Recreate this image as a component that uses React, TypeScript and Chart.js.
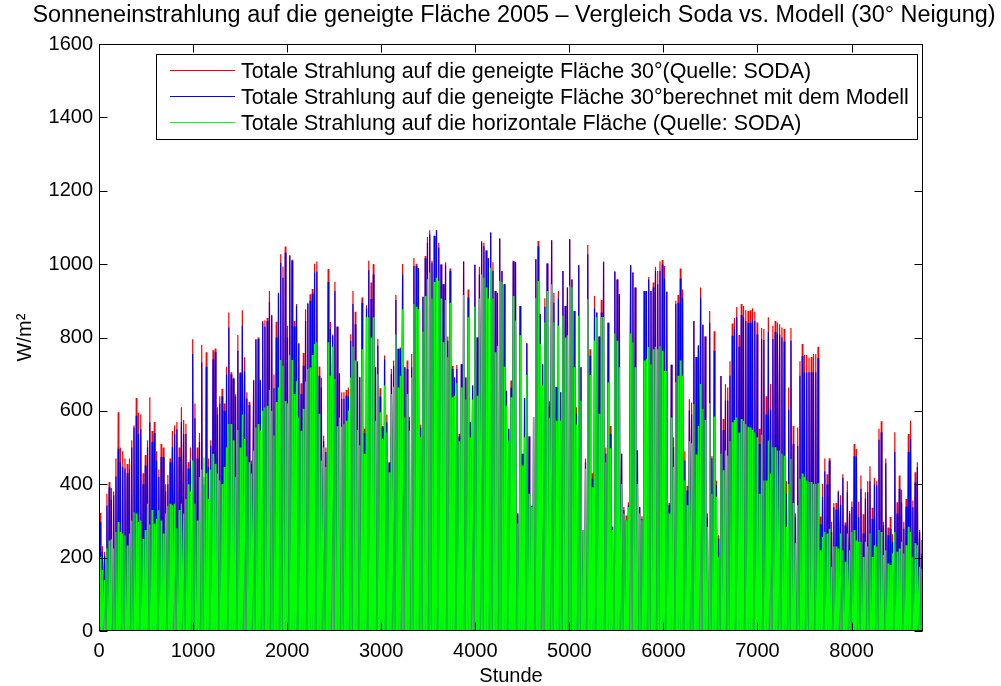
import React, { useEffect, useRef } from "react";
import { Chart, registerables } from "chart.js";

Chart.register(...registerables);

const FONT = '"Liberation Sans", Arial, Helvetica, sans-serif';

const TITLE =
  "Sonneneinstrahlung auf die geneigte Fläche 2005 – Vergleich Soda vs. Modell (30° Neigung)";
const X_LABEL = "Stunde";
const Y_LABEL = "W/m²";

const SERIES_LABELS = [
  "Totale Strahlung auf die geneigte Fläche 30°(Quelle: SODA)",
  "Totale Strahlung auf die geneigte Fläche 30°berechnet mit dem Modell",
  "Totale Strahlung auf die horizontale Fläche (Quelle: SODA)",
];
const SERIES_COLORS = ["#ff0000", "#0000ff", "#00ff00"];

const X_TICKS = [0, 1000, 2000, 3000, 4000, 5000, 6000, 7000, 8000];
const Y_TICKS = [0, 200, 400, 600, 800, 1000, 1200, 1400, 1600];
const HOURS_IN_YEAR = 8760;

// Daily noon peaks (W/m²), one value per day of 2005.
const sodaTiltedPeaks = [
  322, 231, 216, 374, 406, 390, 380, 470, 596, 500, 490, 470, 455, 470, 520, 560, 635, 595, 590, 430,
  480, 520, 637, 545, 570, 490, 440, 510, 500, 400, 425, 470, 545, 560, 570, 500, 610, 575, 565, 460,
  500, 795, 620, 500, 540, 780, 420, 760, 470, 520, 765, 770, 610, 640, 660, 620, 720,
  868, 705, 690, 645, 807, 705, 874, 746, 651, 625, 465, 685, 796, 800, 685, 845, 847, 853, 927, 862,
  699, 843, 922, 1027, 993, 1048, 832, 1025, 1012, 845, 891, 785, 675, 758, 877, 895, 918, 932, 1001, 1007,
  721, 690, 532, 500, 987, 842, 808, 952, 830, 703, 651, 651, 657, 664, 809, 927, 870, 735, 693, 909,
  551, 888, 1009,
  950, 1000, 719, 796, 662, 559, 751, 590, 459, 714, 737, 916, 769, 773, 1000, 719, 737, 584, 755, 1017,
  1001, 989, 563, 911, 1022, 1074, 1092, 1009, 1077, 1092, 1058, 999, 945, 1005, 803, 988, 722, 691, 725, 537,
  727, 1007, 691, 931, 569, 669, 998, 800, 993, 1063, 1058, 1037, 1016, 1086, 1005, 927, 922, 1070, 981, 945,
  655, 551, 683, 1009, 1005, 320, 886, 483, 635, 784, 530, 340, 583, 1013, 1063, 864, 727, 907, 1002, 626,
  1065, 922, 665, 927, 651, 981, 886, 936, 1068, 958, 872, 610, 997, 719, 275, 470, 1052, 768, 430, 913,
  868, 803, 902, 1007, 500, 840, 559, 284, 980, 958, 918, 483, 338, 315, 351, 997, 977, 936, 492, 338,
  313, 927, 927, 965, 927, 950, 993, 981, 1007, 1011, 995, 925, 349, 726, 528, 900, 916, 988, 931, 490,
  395, 632, 623, 845, 747, 778, 936, 835, 803, 320, 872, 477, 817, 410, 261, 695, 578, 673, 664, 735,
  838, 853, 883, 807, 891, 886, 874, 872, 874, 880, 870, 841, 551, 826, 823, 640, 855, 673, 832, 845,
  841, 836, 827, 823, 408, 664, 826, 559, 320, 555, 735, 782, 752, 752, 745, 747, 755, 755, 775, 312,
  401, 470, 427, 471, 298, 348, 349, 383, 370, 427, 296, 408, 327, 353, 510, 496, 352, 424, 318, 378,
  408, 449, 336, 418, 408, 551, 572, 298, 470, 282, 311, 264, 542, 351, 424, 385, 298, 360, 537, 573,
  356, 433, 460, 275, 248,
];

const modelTiltedPeaks = [
  297, 216, 205, 342, 392, 358, 370, 421, 497, 460, 447, 443, 430, 440, 500, 555, 587, 537, 550, 400,
  451, 501, 569, 515, 540, 465, 420, 474, 474, 380, 400, 460, 501, 537, 550, 474, 569, 537, 537, 443,
  465, 755, 580, 470, 515, 732, 400, 720, 447, 505, 740, 760, 590, 620, 640, 600, 700,
  827, 699, 687, 639, 764, 702, 832, 707, 634, 616, 456, 682, 794, 796, 682, 841, 829, 845, 897, 859,
  662, 800, 920, 1004, 963, 1031, 800, 1022, 1009, 830, 886, 782, 646, 723, 845, 891, 900, 920, 977, 980,
  696, 664, 517, 488, 951, 823, 805, 927, 829, 700, 633, 633, 641, 641, 791, 891, 836, 732, 691, 895,
  539, 880, 983,
  905, 972, 719, 778, 639, 555, 741, 569, 459, 700, 723, 902, 769, 769, 972, 719, 714, 573, 719, 995,
  995, 989, 555, 911, 1016, 1058, 1081, 1004, 1077, 1092, 1045, 999, 945, 999, 791, 981, 714, 691, 714, 530,
  727, 1007, 691, 909, 569, 669, 998, 800, 972, 1058, 1049, 1037, 1016, 1086, 981, 927, 922, 1070, 981, 945,
  655, 551, 664, 1007, 1005, 320, 886, 483, 635, 784, 530, 340, 583, 1013, 1049, 864, 727, 884, 1002, 612,
  1065, 895, 665, 907, 651, 981, 886, 936, 1068, 958, 872, 592, 997, 719, 275, 460, 1027, 750, 415, 880,
  868, 803, 868, 1005, 483, 840, 537, 284, 980, 958, 918, 483, 329, 302, 343, 997, 977, 936, 492, 338,
  306, 927, 927, 958, 927, 936, 981, 945, 981, 999, 961, 925, 343, 726, 501, 891, 895, 961, 909, 465,
  383, 601, 590, 845, 747, 778, 909, 835, 803, 309, 840, 471, 764, 397, 252, 695, 548, 628, 628, 696,
  805, 823, 855, 775, 861, 855, 845, 840, 840, 850, 845, 808, 510, 796, 793, 590, 815, 604, 796, 815,
  811, 808, 800, 789, 374, 604, 791, 510, 311, 504, 696, 749, 705, 705, 705, 705, 705, 705, 744, 290,
  365, 435, 399, 464, 270, 337, 331, 379, 345, 418, 288, 379, 320, 338, 476, 476, 311, 388, 266, 361,
  379, 408, 306, 401, 397, 521, 542, 288, 457, 261, 279, 243, 488, 320, 388, 351, 279, 339, 488, 523,
  337, 405, 447, 270, 211,
];

const sodaHorizontalPeaks = [
  202, 166, 139, 225, 247, 250, 225, 270, 297, 270, 266, 260, 233, 266, 301, 324, 320, 297, 301, 251,
  275, 347, 290, 330, 293, 306, 329, 301, 266, 320, 340, 347, 343, 347, 280, 330, 347, 320, 360, 400,
  380, 465, 347, 301, 420, 440, 472, 430, 360, 440, 483, 456, 429, 410, 401, 447, 500,
  564, 564, 520, 420, 548, 500, 590, 523, 476, 460, 429, 492, 555, 564, 546, 600, 609, 614, 657, 600,
  533, 624, 664, 739, 723, 627, 620, 752, 739, 646, 681, 582, 546, 606, 680, 714, 718, 752, 782, 787,
  592, 465, 500, 447, 787, 696, 775, 687, 558, 582, 557, 564, 573, 600, 691, 775, 737, 548, 506, 768,
  483, 855, 855,
  800, 855, 573, 700, 596, 524, 669, 541, 433, 646, 666, 808, 664, 696, 877, 582, 646, 546, 691, 891,
  884, 877, 529, 816, 913, 959, 977, 906, 951, 963, 954, 906, 787, 902, 746, 895, 637, 641, 675, 517,
  664, 916, 631, 855, 528, 631, 884, 641, 906, 972, 963, 936, 906, 990, 906, 760, 777, 954, 951, 720,
  614, 519, 637, 913, 846, 293, 806, 451, 528, 698, 374, 338, 583, 908, 954, 782, 669, 841, 927, 581,
  945, 841, 573, 832, 573, 859, 800, 806, 941, 936, 719, 563, 859, 628, 275, 442, 904, 698, 392, 791,
  855, 592, 856, 856, 460, 678, 498, 275, 811, 791, 719, 401, 320, 302, 338, 811, 787, 719, 401, 320,
  302, 737, 741, 774, 727, 768, 775, 768, 777, 764, 709, 709, 320, 582, 447, 678, 696, 737, 696, 410,
  343, 517, 512, 619, 481, 559, 673, 605, 575, 284, 621, 374, 585, 365, 202, 483, 438, 492, 478, 517,
  569, 575, 582, 541, 578, 573, 564, 557, 555, 548, 541, 528, 374, 535, 410, 410, 519, 429, 501, 501,
  492, 492, 483, 478, 284, 401, 469, 349, 239, 343, 415, 429, 420, 410, 406, 406, 401, 401, 403, 220,
  256, 270, 266, 279, 175, 230, 230, 225, 266, 220, 189, 266, 220, 270, 275, 247, 243, 243, 202, 243,
  230, 266, 202, 234, 230, 275, 270, 207, 220, 184, 180, 211, 270, 216, 225, 243, 211, 234, 284, 270,
  202, 239, 234, 175, 170,
];

// Hour of day for sunrise, solar noon and sunset of each daily profile.
const SUNRISE_HOUR = 5;
const NOON_HOUR = 12;
const SUNSET_HOUR = 19;

function hourlyProfile(peaks: number[]) {
  const pts: { x: number; y: number }[] = [];
  peaks.forEach((peak, day) => {
    const h0 = day * 24;
    pts.push({ x: h0 + SUNRISE_HOUR, y: 0 });
    pts.push({ x: h0 + NOON_HOUR, y: peak });
    pts.push({ x: h0 + SUNSET_HOUR, y: 0 });
  });
  return pts;
}

const W = 1001;
const H = 686;

function fitSize(ctx: CanvasRenderingContext2D, text: string, width: number) {
  ctx.font = `20px ${FONT}`;
  return (20 * width) / ctx.measureText(text).width;
}

const framePlugin = {
  id: "frameAndLabels",
  afterDraw(chart: any) {
    const { ctx, chartArea: a, scales } = chart;
    ctx.save();

    // axes box
    ctx.strokeStyle = "#000";
    ctx.lineWidth = 1;
    const L = Math.round(a.left) + 0.5;
    const T = Math.round(a.top) + 0.5;
    const R = Math.round(a.right) - 0.5;
    const B = Math.round(a.bottom) - 0.5;
    ctx.strokeRect(L, T, R - L, B - T);

    // inward tick marks on all four sides
    const TL = 8;
    ctx.beginPath();
    X_TICKS.forEach((v) => {
      const x = Math.round(scales.x.getPixelForValue(v)) + 0.5;
      ctx.moveTo(x, B);
      ctx.lineTo(x, B - TL);
      ctx.moveTo(x, T);
      ctx.lineTo(x, T + TL);
    });
    Y_TICKS.forEach((v) => {
      const y = Math.round(scales.y.getPixelForValue(v)) + 0.5;
      ctx.moveTo(L, y);
      ctx.lineTo(L + TL, y);
      ctx.moveTo(R, y);
      ctx.lineTo(R - TL, y);
    });
    ctx.stroke();

    ctx.fillStyle = "#000";

    // title
    const titleSize = fitSize(ctx, TITLE, 964);
    ctx.font = `${titleSize}px ${FONT}`;
    ctx.textAlign = "center";
    ctx.textBaseline = "alphabetic";
    ctx.fillText(TITLE, 514, 22);

    // axis titles
    ctx.font = `20px ${FONT}`;
    ctx.fillText(X_LABEL, (a.left + a.right) / 2, 682);
    ctx.save();
    ctx.translate(25, (a.top + a.bottom) / 2);
    ctx.rotate(-Math.PI / 2);
    ctx.textBaseline = "middle";
    ctx.fillText(Y_LABEL, 0, 0);
    ctx.restore();

    // legend
    const boxL = 156.5, boxT = 54.5, boxR = 917.5, boxB = 139.5;
    ctx.fillStyle = "#fff";
    ctx.fillRect(boxL, boxT, boxR - boxL, boxB - boxT);
    ctx.strokeStyle = "#000";
    ctx.lineWidth = 1;
    ctx.strokeRect(boxL, boxT, boxR - boxL, boxB - boxT);
    const legendSize = fitSize(ctx, SERIES_LABELS[1], 668);
    const rowY = [70, 96, 122];
    chart.data.datasets.forEach((ds: any, i: number) => {
      const y = rowY[i];
      ctx.strokeStyle = ds.borderColor;
      ctx.lineWidth = 1;
      ctx.beginPath();
      ctx.moveTo(170, y + 0.5);
      ctx.lineTo(235, y + 0.5);
      ctx.stroke();
      ctx.fillStyle = "#000";
      ctx.font = `${legendSize}px ${FONT}`;
      ctx.textAlign = "left";
      ctx.textBaseline = "alphabetic";
      ctx.fillText(ds.label, 241, y + legendSize * 0.716 / 2 + 0.5);
    });

    ctx.restore();
  },
};

const plainNumber = (v: number | string) => String(v);

export default function App() {
  const ref = useRef<HTMLCanvasElement | null>(null);

  useEffect(() => {
    if (!ref.current) return;
    const series = [sodaTiltedPeaks, modelTiltedPeaks, sodaHorizontalPeaks];
    const chart = new Chart(ref.current, {
      type: "line",
      data: {
        datasets: series.map((peaks, i) => ({
          label: SERIES_LABELS[i],
          data: hourlyProfile(peaks),
          borderColor: SERIES_COLORS[i],
          backgroundColor: SERIES_COLORS[i],
          borderWidth: 1.2,
          pointRadius: 0,
          fill: false,
          tension: 0,
          // horizontal series on top, SODA tilted underneath
          order: 3 - i,
        })),
      },
      options: {
        animation: false,
        responsive: false,
        devicePixelRatio: 1,
        events: [],
        parsing: false,
        normalized: true,
        layout: { padding: { top: 44, right: W - 923, left: 0, bottom: 0 } },
        plugins: {
          legend: { display: false },
          title: { display: false },
          tooltip: { enabled: false },
        },
        scales: {
          x: {
            type: "linear",
            min: 0,
            max: HOURS_IN_YEAR,
            afterBuildTicks: (s: any) => {
              s.ticks = X_TICKS.map((v) => ({ value: v }));
            },
            afterFit: (s: any) => {
              s.height = H - 631;
            },
            grid: { display: false, drawTicks: false },
            border: { display: false },
            ticks: {
              font: { family: FONT, size: 20 },
              color: "#000",
              padding: 8,
              maxRotation: 0,
              autoSkip: false,
              callback: plainNumber,
            },
          },
          y: {
            type: "linear",
            min: 0,
            max: 1600,
            afterBuildTicks: (s: any) => {
              s.ticks = Y_TICKS.map((v) => ({ value: v }));
            },
            afterFit: (s: any) => {
              s.width = 99;
            },
            grid: { display: false, drawTicks: false },
            border: { display: false },
            ticks: {
              font: { family: FONT, size: 20 },
              color: "#000",
              padding: 6,
              autoSkip: false,
              callback: plainNumber,
            },
          },
        },
      } as any,
      plugins: [framePlugin],
    });
    return () => chart.destroy();
  }, []);

  return (
    <div style={{ position: "absolute", left: 0, top: 0, width: W, height: H, background: "#fff" }}>
      <canvas ref={ref} width={W} height={H} style={{ display: "block", width: W, height: H }} />
    </div>
  );
}
